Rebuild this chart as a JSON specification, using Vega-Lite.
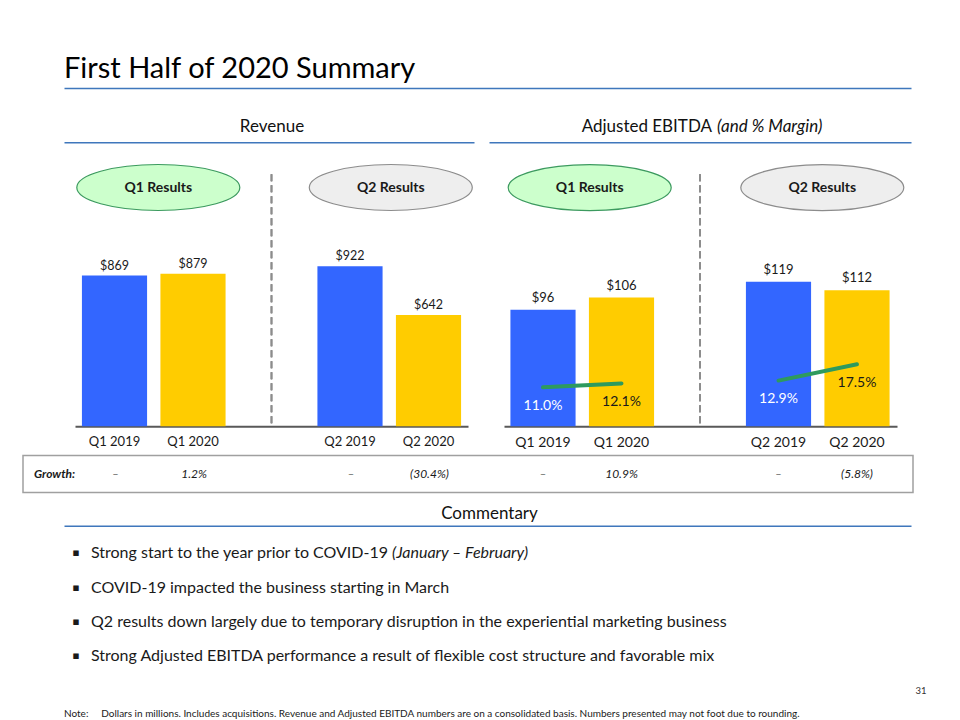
{
  "$schema": "https://vega.github.io/schema/vega-lite/v6.json",
  "background": "white",
  "padding": {"left": 22, "top": 50, "right": 5, "bottom": 0},
  "config": {
    "view": {"stroke": null},
    "font": "Lato",
    "text": {"font": "Lato", "color": "#1a1a1a"}
  },
  "datasets": {
    "headings": [
      {"panel": "title", "text": "First Half of 2020 Summary"},
      {"panel": "revenue", "text": "Revenue"},
      {"panel": "ebitda", "text": "Adjusted EBITDA", "aside": "(and % Margin)"},
      {"panel": "commentary", "text": "Commentary"}
    ],
    "revenue": [
      {"period": "Q1 2019", "year": "2019", "revenue": 869, "growth": "–"},
      {"period": "Q1 2020", "year": "2020", "revenue": 879, "growth": "1.2%"},
      {"period": "Q2 2019", "year": "2019", "revenue": 922, "growth": "–"},
      {"period": "Q2 2020", "year": "2020", "revenue": 642, "growth": "(30.4%)"}
    ],
    "ebitda": [
      {"period": "Q1 2019", "half": "Q1", "year": "2019", "ebitda": 96, "margin": 0.110, "growth": "–"},
      {"period": "Q1 2020", "half": "Q1", "year": "2020", "ebitda": 106, "margin": 0.121, "growth": "10.9%"},
      {"period": "Q2 2019", "half": "Q2", "year": "2019", "ebitda": 119, "margin": 0.129, "growth": "–"},
      {"period": "Q2 2020", "half": "Q2", "year": "2020", "ebitda": 112, "margin": 0.175, "growth": "(5.8%)"}
    ],
    "groups": [
      {"group": "Q1 Results"},
      {"group": "Q2 Results"}
    ],
    "bullets": [
      {"line": 1, "text": "Strong start to the year prior to COVID-19", "note": "(January – February)"},
      {"line": 2, "text": "COVID-19 impacted the business starting in March"},
      {"line": 3, "text": "Q2 results down largely due to temporary disruption in the experiential marketing business"},
      {"line": 4, "text": "Strong Adjusted EBITDA performance a result of flexible cost structure and favorable mix"}
    ],
    "footer": [
      {"kind": "note", "text": "Note:\u00a0\u00a0\u00a0\u00a0\u00a0Dollars in millions. Includes acquisitions. Revenue and Adjusted EBITDA numbers are on a consolidated basis. Numbers presented may not foot due to rounding."},
      {"kind": "page", "text": "31"}
    ]
  },
  "spacing": 4.5,
  "vconcat": [
    {
      "spacing": 15,
      "hconcat": [
        {"width": 26, "height": 1, "data": {"values": []}, "mark": "point"},
        {
          "spacing": 24.25,
          "vconcat": [
            {
              "width": 847, "height": 38,
              "data": {"name": "headings"},
              "transform": [{"filter": "datum.panel === 'title'"}],
              "mark": {"type": "text", "align": "left", "baseline": "alphabetic", "dy": 9, "fontSize": 29, "color": "#000000"},
              "encoding": {
                "x": {"datum": 0, "type": "quantitative", "scale": {"domain": [0, 1], "nice": false}, "axis": {"title": null, "labels": false, "ticks": false, "grid": false, "domainColor": "#3F77BC", "domainWidth": 1.5}},
                "text": {"field": "text"}
              }
            },
            {
              "spacing": 19,
              "vconcat": [
                {
                  "spacing": 15,
                  "hconcat": [
                    {
                      "width": 410, "height": 30,
                      "data": {"name": "headings"},
                      "transform": [{"filter": "datum.panel === 'revenue'"}],
                      "mark": {"type": "text", "align": "center", "baseline": "alphabetic", "dx": 3, "dy": 5, "fontSize": 17, "color": "#111111"},
                      "encoding": {
                        "x": {"datum": 0.5, "type": "quantitative", "scale": {"domain": [0, 1], "nice": false}, "axis": {"title": null, "labels": false, "ticks": false, "grid": false, "domainColor": "#3F77BC", "domainWidth": 1.5}},
                        "text": {"field": "text"}
                      }
                    },
                    {
                      "width": 422, "height": 30,
                      "data": {"name": "headings"},
                      "transform": [{"filter": "datum.panel === 'ebitda'"}],
                      "encoding": {
                        "x": {"datum": 0.5, "type": "quantitative", "scale": {"domain": [0, 1], "nice": false}, "axis": {"title": null, "labels": false, "ticks": false, "grid": false, "domainColor": "#3F77BC", "domainWidth": 1.5}}
                      },
                      "layer": [
                        {"mark": {"type": "text", "align": "right", "baseline": "alphabetic", "dx": 12, "dy": 5, "fontSize": 17, "color": "#111111"}, "encoding": {"text": {"field": "text"}}},
                        {"mark": {"type": "text", "align": "left", "baseline": "alphabetic", "dx": 17, "dy": 5, "fontSize": 17, "fontStyle": "italic", "color": "#111111"}, "encoding": {"text": {"field": "aside"}}}
                      ]
                    }
                  ]
                },
                {
                  "spacing": 0,
                  "hconcat": [
                    {"width": 10, "height": 1, "data": {"values": []}, "mark": "point"},
                    {
                      "spacing": 29,
                      "hconcat": [
                        {
                          "width": 393, "height": 252,
                          "layer": [
                            {
                              "data": {"name": "revenue"},
                              "encoding": {
                                "x": {"field": "period", "type": "nominal", "scale": {"type": "band", "domain": ["Q1 2019", "Q1 2020", " ", "Q2 2019", "Q2 2020"], "paddingInner": 0.17, "paddingOuter": 0.0882, "align": 0.5}, "axis": {"title": null, "ticks": false, "labelFontSize": 13, "labelColor": "#1a1a1a", "labelPadding": 9, "domainColor": "#595959", "domainWidth": 2, "labelAngle": 0, "grid": false}},
                                "y": {"field": "revenue", "type": "quantitative", "scale": {"domain": [0, 1453], "nice": false}, "axis": null}
                              },
                              "layer": [
                                {
                                  "mark": {"type": "rule", "strokeDash": [7, 4], "color": "#8c8c8c", "strokeWidth": 1.5},
                                  "encoding": {"x": {"datum": " ", "type": "nominal"}, "y": null}
                                },
                                {
                                  "mark": {"type": "bar"},
                                  "encoding": {
                                    "color": {"field": "year", "type": "nominal", "scale": {"domain": ["2019", "2020"], "range": ["#3366FF", "#FFCC00"]}, "legend": null}
                                  }
                                },
                                {
                                  "mark": {"type": "text", "baseline": "alphabetic", "dy": -6, "fontSize": 12.5, "color": "#1a1a1a"},
                                  "encoding": {
                                    "text": {"field": "revenue", "type": "quantitative", "format": "$,.0f"}
                                  }
                                }
                              ]
                            },
                            {
                              "data": {"name": "groups"},
                              "encoding": {
                                "x": {"field": "group", "type": "nominal", "scale": {"type": "point", "domain": ["Q1 Results", "Q2 Results"], "padding": 0.3452, "align": 0.519}, "axis": null},
                                "y": {"datum": 1376.6, "type": "quantitative"}
                              },
                              "layer": [
                                {
                                  "mark": {"type": "point", "shape": "M-1,0C-1,-0.156,-0.552,-0.282,0,-0.282C0.552,-0.282,1,-0.156,1,0C1,0.156,0.552,0.282,0,0.282C-0.552,0.282,-1,0.156,-1,0Z", "size": 26569, "filled": true, "opacity": 1, "strokeWidth": 1.2},
                                  "encoding": {
                                    "fill": {"condition": {"test": "datum.group === 'Q1 Results'", "value": "#CCFFCC"}, "value": "#EEEEEE"},
                                    "stroke": {"condition": {"test": "datum.group === 'Q1 Results'", "value": "#3C9A5F"}, "value": "#8C8C8C"}
                                  }
                                },
                                {
                                  "mark": {"type": "text", "fontWeight": "bold", "fontSize": 14, "color": "#1a1a1a"},
                                  "encoding": {"text": {"field": "group"}}
                                }
                              ]
                            }
                          ],
                          "resolve": {"scale": {"x": "independent"}}
                        },
                        {
                          "width": 393, "height": 252,
                          "layer": [
                            {
                              "data": {"name": "ebitda"},
                              "encoding": {
                                "x": {"field": "period", "type": "nominal", "scale": {"type": "band", "domain": ["Q1 2019", "Q1 2020", " ", "Q2 2019", "Q2 2020"], "paddingInner": 0.17, "paddingOuter": 0.0882, "align": 0.4638}, "axis": {"title": null, "ticks": false, "labelFontSize": 14, "labelColor": "#1a1a1a", "labelPadding": 9, "domainColor": "#595959", "domainWidth": 2, "labelAngle": 0, "grid": false}},
                                "y": {"field": "ebitda", "type": "quantitative", "scale": {"domain": [0, 207.5], "nice": false}, "axis": null}
                              },
                              "layer": [
                                {
                                  "mark": {"type": "rule", "strokeDash": [7, 4], "color": "#8c8c8c", "strokeWidth": 1.5},
                                  "encoding": {"x": {"datum": " ", "type": "nominal"}, "y": null}
                                },
                                {
                                  "mark": {"type": "bar"},
                                  "encoding": {
                                    "color": {"field": "year", "type": "nominal", "scale": {"domain": ["2019", "2020"], "range": ["#3366FF", "#FFCC00"]}, "legend": null}
                                  }
                                },
                                {
                                  "mark": {"type": "text", "baseline": "alphabetic", "dy": -8, "fontSize": 13, "color": "#1a1a1a"},
                                  "encoding": {
                                    "text": {"field": "ebitda", "type": "quantitative", "format": "$,.0f"}
                                  }
                                }
                              ]
                            },
                            {
                              "data": {"name": "groups"},
                              "encoding": {
                                "x": {"field": "group", "type": "nominal", "scale": {"type": "point", "domain": ["Q1 Results", "Q2 Results"], "padding": 0.3448, "align": 0.5343}, "axis": null},
                                "y": {"datum": 196.5, "type": "quantitative", "scale": {"domain": [0, 207.5], "nice": false}, "axis": null}
                              },
                              "layer": [
                                {
                                  "mark": {"type": "point", "shape": "M-1,0C-1,-0.156,-0.552,-0.282,0,-0.282C0.552,-0.282,1,-0.156,1,0C1,0.156,0.552,0.282,0,0.282C-0.552,0.282,-1,0.156,-1,0Z", "size": 26569, "filled": true, "opacity": 1, "strokeWidth": 1.2},
                                  "encoding": {
                                    "fill": {"condition": {"test": "datum.group === 'Q1 Results'", "value": "#CCFFCC"}, "value": "#EEEEEE"},
                                    "stroke": {"condition": {"test": "datum.group === 'Q1 Results'", "value": "#3C9A5F"}, "value": "#8C8C8C"}
                                  }
                                },
                                {
                                  "mark": {"type": "text", "fontWeight": "bold", "fontSize": 14, "color": "#1a1a1a"},
                                  "encoding": {"text": {"field": "group"}}
                                }
                              ]
                            },
                            {
                              "data": {"name": "ebitda"},
                              "encoding": {
                                "x": {"field": "period", "type": "nominal", "scale": {"type": "band", "domain": ["Q1 2019", "Q1 2020", " ", "Q2 2019", "Q2 2020"], "paddingInner": 0.17, "paddingOuter": 0.0882, "align": 0.4638}, "axis": null},
                                "y": {"field": "margin", "type": "quantitative", "scale": {"domain": [0, 0.712], "nice": false}, "axis": null}
                              },
                              "layer": [
                                {
                                  "mark": {"type": "line", "color": "#2E9A5E", "strokeWidth": 4, "strokeCap": "round"},
                                  "encoding": {"detail": {"field": "half"}}
                                },
                                {
                                  "mark": {"type": "text", "baseline": "middle", "dy": 18.5, "fontSize": 14},
                                  "encoding": {
                                    "text": {"field": "margin", "type": "quantitative", "format": ".1%"},
                                    "color": {"condition": {"test": "datum.year === '2019'", "value": "#FFFFFF"}, "value": "#1a1a1a"}
                                  }
                                }
                              ]
                            }
                          ],
                          "resolve": {"scale": {"x": "independent", "y": "independent"}}
                        }
                      ]
                    }
                  ]
                }
              ]
            }
          ]
        }
      ]
    },
    {
      "width": 890, "height": 37,
      "view": {"stroke": "#a0a0a0", "strokeWidth": 1.5},
      "layer": [
        {
          "data": {"values": [{"label": "Growth:"}]},
          "mark": {"type": "text", "align": "left", "dx": 11, "fontStyle": "italic", "fontWeight": "bold", "fontSize": 12, "color": "#1a1a1a"},
          "encoding": {
            "x": {"datum": 0, "type": "quantitative", "scale": {"domain": [0, 1], "nice": false}, "axis": null},
            "text": {"field": "label"}
          }
        },
        {
          "data": {"name": "revenue"},
          "mark": {"type": "text", "fontStyle": "italic", "fontSize": 12, "color": "#1a1a1a"},
          "encoding": {
            "x": {"field": "period", "type": "nominal", "scale": {"type": "band", "domain": ["Q1 2019", "Q1 2020", " ", "Q2 2019", "Q2 2020", "p1", "p2", "p3", "p4", "p5"], "paddingInner": 0.17, "paddingOuter": 0.7538, "align": 0.5064}, "axis": null},
            "text": {"field": "growth"}
          }
        },
        {
          "data": {"name": "ebitda"},
          "mark": {"type": "text", "fontStyle": "italic", "fontSize": 12, "color": "#1a1a1a"},
          "encoding": {
            "x": {"field": "period", "type": "nominal", "scale": {"type": "band", "domain": ["p1", "p2", "p3", "p4", "p5", "Q1 2019", "Q1 2020", " ", "Q2 2019", "Q2 2020"], "paddingInner": 0.17, "paddingOuter": 0.7538, "align": 0.8021}, "axis": null},
            "text": {"field": "growth"}
          }
        }
      ],
      "resolve": {"scale": {"x": "independent"}}
    },
    {
      "spacing": 15,
      "hconcat": [
        {"width": 26, "height": 1, "data": {"values": []}, "mark": "point"},
        {
          "spacing": 10.25,
          "vconcat": [
            {
              "width": 847, "height": 27.75,
              "data": {"name": "headings"},
              "transform": [{"filter": "datum.panel === 'commentary'"}],
              "mark": {"type": "text", "align": "center", "baseline": "alphabetic", "dx": 2, "dy": 7, "fontSize": 17, "color": "#111111"},
              "encoding": {
                "x": {"datum": 0.5, "type": "quantitative", "scale": {"domain": [0, 1], "nice": false}, "axis": {"title": null, "labels": false, "ticks": false, "grid": false, "domainColor": "#3F77BC", "domainWidth": 1.5}},
                "text": {"field": "text"}
              }
            },
            {
              "width": 847, "height": 137,
              "data": {"name": "bullets"},
              "encoding": {
                "x": {"datum": 0, "type": "quantitative", "scale": {"domain": [0, 1], "nice": false}, "axis": null},
                "y": {"field": "line", "type": "ordinal", "scale": {"type": "band", "paddingInner": 0, "paddingOuter": 0}, "axis": null}
              },
              "layer": [
                {"mark": {"type": "text", "text": "▪", "font": "DejaVu Sans", "fontSize": 11, "dx": 12, "align": "center", "baseline": "middle", "color": "#1a1a1a"}},
                {"mark": {"type": "text", "dx": 27, "align": "left", "baseline": "middle", "fontSize": 16, "color": "#1a1a1a"}, "encoding": {"text": {"field": "text"}}},
                {"transform": [{"filter": "datum.note != null"}], "mark": {"type": "text", "dx": 328, "align": "left", "baseline": "middle", "fontSize": 16, "fontStyle": "italic", "color": "#1a1a1a"}, "encoding": {"text": {"field": "note"}}}
              ]
            },
            {
              "width": 847, "height": 36.75,
              "data": {"name": "footer"},
              "encoding": {
                "x": {"field": "kind", "type": "nominal", "scale": {"type": "point", "domain": ["note", "page"], "padding": 0}, "axis": null},
                "y": {"field": "kind", "type": "nominal", "scale": {"type": "point", "domain": ["page", "note"], "padding": 0.299, "align": 0.5636}, "axis": null}
              },
              "layer": [
                {"transform": [{"filter": "datum.kind === 'note'"}], "mark": {"type": "text", "align": "left", "baseline": "middle", "fontSize": 10, "color": "#1a1a1a"}, "encoding": {"text": {"field": "text"}}},
                {"transform": [{"filter": "datum.kind === 'page'"}], "mark": {"type": "text", "align": "center", "baseline": "middle", "dx": 10, "fontSize": 9.5, "color": "#333333"}, "encoding": {"text": {"field": "text"}}}
              ]
            }
          ]
        }
      ]
    }
  ]
}
